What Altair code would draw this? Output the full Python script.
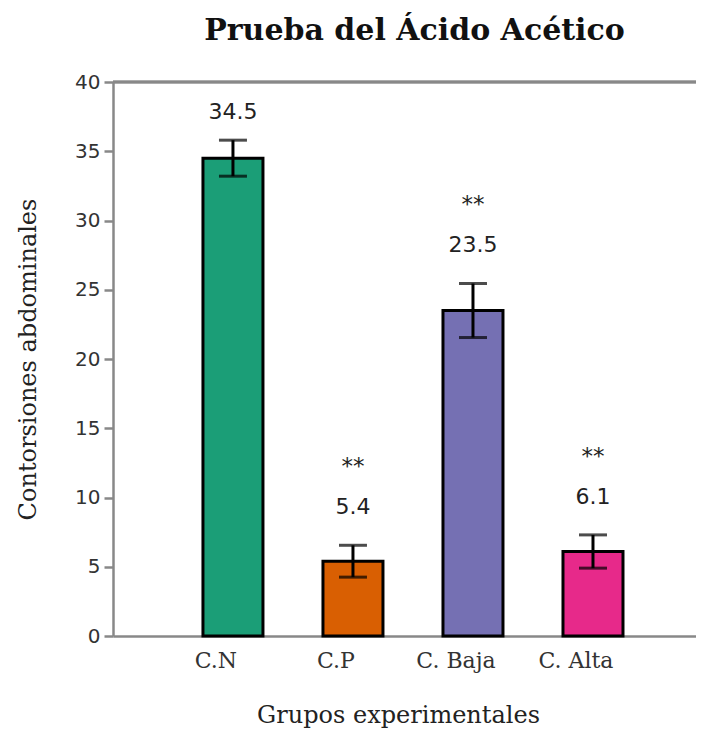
import altair as alt
import pandas as pd

groups = ["C.N", "C.P", "C. Baja", "C. Alta"]
means = [34.5, 5.4, 23.5, 6.1]
sems = [1.3, 1.15, 1.95, 1.2]
stars = ["", "**", "**", "**"]
colors = ["#1b9e77", "#d95f02", "#7570b3", "#e7298a"]
y_ticks = [0, 5, 10, 15, 20, 25, 30, 35, 40]

df = pd.DataFrame({"grupo": groups, "media": means, "sem": sems, "sig": stars})
df["etiqueta"] = [f"{m:.1f}" for m in means]

SERIF = "DejaVu Serif"
SANS = "DejaVu Sans"

base = alt.Chart(df).transform_calculate(
    lo="datum.media - datum.sem",
    hi="datum.media + datum.sem",
    ylab="min(datum.media + datum.sem + 2.75, 37.8)",
    ystar="min(datum.media + datum.sem + 2.75, 37.8) + 2.9",
)

x_scale = alt.Scale(paddingInner=0.5, paddingOuter=0.679, align=0.552)
y_scale = alt.Scale(domain=[0, 40], nice=False)

x_enc = alt.X(
    "grupo:N",
    sort=groups,
    scale=x_scale,
    axis=alt.Axis(title="Grupos experimentales", labelAngle=0, ticks=False),
)

bars = base.mark_bar(stroke="black", strokeWidth=3).encode(
    x=x_enc,
    y=alt.Y(
        "media:Q",
        scale=y_scale,
        axis=alt.Axis(title="Contorsiones abdominales", values=y_ticks, grid=False),
    ),
    color=alt.Color("grupo:N", scale=alt.Scale(domain=groups, range=colors), legend=None),
)

top_line = alt.Chart(df).mark_rule(color="#888888", strokeWidth=2.5).encode(
    y=alt.datum(40, scale=y_scale)
)

xo = alt.X("grupo:N", sort=groups)
err = base.mark_rule(color="black", strokeWidth=3).encode(x=xo, y=alt.Y("lo:Q"), y2="hi:Q")
cap_lo = base.mark_tick(color="black", thickness=3, size=28, orient="horizontal").encode(
    x=xo, y=alt.Y("lo:Q")
)
cap_hi = base.mark_tick(color="black", thickness=3, size=28, orient="horizontal").encode(
    x=xo, y=alt.Y("hi:Q")
)
labels = base.mark_text(font=SANS, fontSize=22, color="#222222", baseline="middle").encode(
    x=xo, y=alt.Y("ylab:Q"), text="etiqueta:N"
)
star_text = base.mark_text(font=SANS, fontSize=23, color="#222222", baseline="middle").encode(
    x=xo, y=alt.Y("ystar:Q"), text="sig:N"
)

chart = (
    alt.layer(bars, top_line, err, cap_lo, cap_hi, labels, star_text)
    .properties(
        width=583,
        height=554,
        autosize=alt.AutoSizeParams(type="none"),
        padding={"left": 105, "top": 74, "right": 0, "bottom": 100},
        title=alt.TitleParams(
            "Prueba del Ácido Acético",
            font=SERIF,
            fontSize=30,
            fontWeight="bold",
            color="#111111",
            anchor="middle",
            offset=15,
            dx=10,
        ),
    )
    .configure_view(strokeWidth=0)
    .configure_axisY(
        labelFont=SANS,
        labelFontSize=20,
        labelColor="#333333",
        labelPadding=4,
        tickSize=9,
        tickColor="#888888",
        tickWidth=2.5,
        domainColor="#888888",
        domainWidth=2.5,
        titleFont=SERIF,
        titleFontSize=24,
        titleFontWeight="normal",
        titleColor="#222222",
        titlePadding=34,
    )
    .configure_axisX(
        labelFont=SERIF,
        labelFontSize=22,
        labelColor="#333333",
        labelPadding=14,
        labelOffset=-17,
        domainColor="#888888",
        domainWidth=2.5,
        titleFont=SERIF,
        titleFontSize=24,
        titleFontWeight="normal",
        titleColor="#222222",
        titlePadding=32,
        titleX=285,
        titleAlign="center",
    )
)

chart.save("out.html", embed_options={"renderer": "svg", "actions": False})
